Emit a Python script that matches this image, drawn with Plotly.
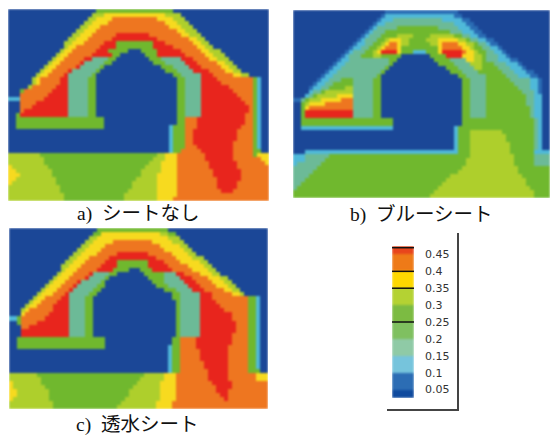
import plotly.graph_objects as go

W, H = 550, 435

# Level colours: 0 = below 0.05 ... 8 = above 0.4
LEVEL_COLORS = ["#1b4797", "#2a6cb4", "#4fb9d9", "#6cba97", "#70b82e",
                "#aecf2c", "#f7da1f", "#ee7620", "#e8251d"]

# Each row of a panel: "level:column" = this level is filled up to that grid column.
PANEL_A = [
"0:22 4:41 0:65",
"0:21 5:24 6:39 5:43 0:65",
"0:20 5:22 6:26 7:37 6:41 5:44 0:65",
"0:19 5:21 6:25 7:39 6:42 5:45 0:65",
"0:18 5:20 6:23 7:40 6:43 5:46 0:65",
"0:17 5:19 6:22 7:42 6:44 5:47 0:65",
"0:16 5:18 6:21 7:27 8:35 7:43 6:45 5:48 0:65",
"0:15 5:17 6:20 7:26 8:37 7:45 6:47 5:49 0:65",
"0:14 5:16 6:19 7:24 8:27 4:36 8:39 7:46 6:48 5:50 0:65",
"0:14 5:15 6:17 7:23 8:27 4:36 8:41 7:47 6:49 5:51 0:65",
"0:13 5:14 6:16 7:22 8:25 4:30 0:33 4:37 8:43 7:48 6:50 5:53 0:65",
"0:12 5:13 6:15 7:21 8:26 4:28 0:34 4:37 8:44 7:49 6:51 5:54 0:65",
"0:11 5:12 6:14 7:19 8:21 3:25 4:27 0:35 4:38 3:43 8:46 7:50 6:52 5:55 0:65",
"0:10 5:11 6:13 7:18 8:19 3:24 4:26 0:36 4:39 3:44 8:47 7:52 6:54 5:56 0:65",
"0:9 5:10 6:12 7:17 8:18 3:23 4:24 0:38 4:41 3:45 8:48 7:53 6:55 5:57 0:65",
"0:8 5:9 6:11 7:15 8:16 3:22 4:23 0:39 4:42 3:46 8:50 7:54 6:56 5:58 0:65",
"0:7 5:8 6:10 7:14 8:15 3:21 4:22 0:41 4:43 3:48 8:51 7:56 6:58 5:60 0:65",
"0:6 5:7 6:8 7:13 8:15 3:20 4:22 0:42 4:44 3:48 8:52 7:61 4:62 2:63 0:65",
"0:6 5:7 6:8 7:13 8:15 3:20 4:22 0:42 4:44 3:48 8:53 7:61 4:62 2:63 0:65",
"0:5 5:6 7:12 8:15 3:20 4:22 0:42 4:44 3:48 8:55 7:61 4:62 2:63 0:65",
"0:3 4:4 7:11 8:15 3:20 4:22 0:42 4:44 3:48 8:56 7:61 4:62 2:63 0:65",
"0:3 7:10 8:15 3:20 4:22 0:42 4:44 3:48 8:57 7:61 4:62 2:63 0:65",
"2:3 7:9 8:15 3:20 4:22 0:42 4:44 3:48 8:58 7:61 4:62 2:63 0:65",
"0:3 7:7 8:15 3:20 4:22 0:42 4:44 3:48 8:59 7:61 4:62 2:63 0:65",
"0:3 7:6 8:15 3:20 4:22 0:42 4:44 3:48 8:60 7:61 4:62 2:63 0:65",
"0:3 7:4 8:15 3:20 4:22 0:42 4:44 3:48 8:60 7:61 4:62 2:63 0:65",
"0:2 4:3 8:15 3:20 4:22 0:42 4:44 3:48 8:59 7:61 4:62 2:63 0:65",
"0:2 4:24 0:42 4:44 7:47 8:59 7:61 4:62 2:63 0:65",
"0:2 4:24 0:42 4:44 7:47 8:59 7:61 4:62 2:63 0:65",
"0:2 4:24 0:40 2:41 4:44 7:47 8:58 7:61 4:62 2:63 0:65",
"0:40 2:41 4:44 7:46 8:57 7:61 4:62 2:63 0:65",
"0:40 2:41 4:44 7:46 8:57 7:61 4:62 2:63 0:65",
"0:40 2:41 4:44 7:46 8:57 7:61 4:62 2:63 0:65",
"0:40 2:41 4:44 7:46 8:56 7:61 4:62 2:63 0:65",
"0:40 2:41 4:44 7:47 8:56 7:61 4:62 2:63 0:65",
"0:40 2:41 4:43 7:48 8:56 7:61 4:63 0:65",
"5:8 4:37 5:39 6:42 7:49 8:56 7:61 4:62 6:65",
"5:9 4:36 5:39 6:42 7:49 8:56 7:63 6:65",
"5:9 4:35 5:38 6:42 7:50 8:57 7:64 6:65",
"6:1 5:10 4:34 5:38 6:42 7:50 8:57 7:65",
"6:2 5:11 4:33 5:38 6:42 7:51 8:58 7:65",
"6:3 5:11 4:33 5:37 6:42 7:51 8:58 7:65",
"6:2 5:12 4:32 5:37 6:42 7:52 8:58 7:65",
"6:1 5:12 4:31 5:37 6:42 7:52 8:57 7:65",
"5:13 4:31 5:37 6:42 7:52 8:57 7:65",
"5:13 4:30 5:37 6:42 7:53 8:56 7:65",
"5:14 4:29 5:37 6:42 7:65",
"5:14 4:29 5:37 6:41 7:65",
]

PANEL_B = [
"0:23 1:41 0:64",
"0:22 1:23 2:40 1:42 0:64",
"0:21 1:22 2:25 3:37 2:42 1:44 0:64",
"0:20 1:21 2:23 3:40 2:43 1:45 0:64",
"0:19 1:20 2:21 3:26 4:36 3:41 2:44 1:46 0:64",
"0:18 1:19 2:20 3:23 4:39 3:42 2:45 1:47 0:64",
"0:17 1:18 2:19 3:22 4:26 5:30 4:34 5:40 4:42 3:44 2:46 1:48 0:64",
"0:16 1:17 2:18 3:21 4:23 5:24 6:27 5:29 4:33 5:36 6:41 5:43 4:44 3:46 2:48 1:50 0:64",
"0:15 1:16 2:18 3:20 4:22 5:23 6:24 7:26 6:27 5:29 4:34 5:36 6:37 7:41 6:43 5:45 4:46 3:48 2:49 1:51 0:64",
"0:14 1:15 2:17 3:19 4:21 5:22 6:23 7:26 6:27 4:36 6:37 7:42 6:44 5:45 4:47 3:49 2:51 1:52 0:64",
"0:13 1:14 2:15 3:18 4:20 5:21 6:22 8:26 6:27 4:30 2:33 4:36 6:37 8:42 7:43 6:45 5:46 4:48 3:50 2:52 1:53 0:64",
"0:12 1:13 2:14 3:17 4:20 5:22 4:27 0:34 4:38 8:42 6:45 5:47 4:48 3:51 2:53 1:54 0:64",
"0:11 1:12 2:14 3:24 4:26 0:35 4:39 3:43 6:45 5:47 4:48 3:51 2:54 1:56 0:64",
"0:10 1:11 2:13 3:24 4:25 0:36 4:40 3:44 5:47 4:50 3:53 2:56 1:57 0:64",
"0:9 1:10 2:12 3:23 4:24 0:38 4:41 3:45 5:47 4:51 3:54 2:57 1:58 0:64",
"0:8 1:9 2:11 3:22 4:23 0:39 4:42 3:46 4:52 3:55 2:58 1:60 0:64",
"0:7 1:8 2:10 3:21 4:22 0:41 4:43 3:48 4:53 3:56 2:59 1:61 0:64",
"0:6 1:7 2:9 3:12 4:15 3:20 4:22 0:42 4:44 3:48 4:54 3:59 2:61 1:62 0:64",
"0:5 1:6 2:8 3:10 4:15 3:20 4:22 0:42 4:44 3:48 4:55 3:59 2:61 1:62 0:64",
"0:4 1:5 2:7 3:9 4:13 5:15 3:20 4:22 0:42 4:44 3:48 4:56 3:59 2:61 1:62 0:64",
"0:4 2:5 3:7 4:8 5:15 3:20 4:22 0:42 4:44 3:48 4:57 3:60 2:61 1:62 0:64",
"0:3 2:4 3:5 4:6 5:11 6:15 3:20 4:22 0:42 4:44 3:48 4:58 3:60 2:62 0:64",
"1:2 3:3 4:4 5:7 6:12 7:15 3:20 4:22 0:42 4:44 3:48 4:58 3:60 2:62 0:64",
"0:2 4:3 5:4 6:8 7:15 3:20 4:22 0:42 4:44 3:48 4:58 3:60 2:62 0:64",
"0:2 4:3 6:4 7:15 3:20 4:22 0:42 4:44 3:48 4:59 3:60 2:62 0:64",
"0:2 4:3 8:15 3:20 4:22 0:42 4:44 3:48 4:59 3:60 2:62 0:64",
"0:2 4:3 8:15 3:20 4:22 0:42 4:44 3:48 4:59 3:60 2:62 0:64",
"0:2 4:25 0:42 4:60 3:61 2:62 0:64",
"0:2 4:25 0:42 4:60 3:61 2:62 0:64",
"0:2 2:25 0:40 2:41 4:60 3:61 2:62 0:64",
"0:40 2:41 4:44 5:52 4:60 3:61 2:62 0:64",
"0:40 2:41 4:44 5:53 4:60 3:61 2:62 0:64",
"0:40 2:41 4:44 5:53 4:60 3:61 2:62 0:64",
"0:40 2:41 4:44 5:54 4:60 3:61 2:62 0:64",
"0:40 2:41 4:44 5:54 4:60 3:61 2:62 0:64",
"0:3 2:41 4:44 5:54 4:60 2:64",
"2:3 3:9 4:44 5:55 4:60 3:64",
"2:3 3:8 4:43 5:55 4:60 3:64",
"2:1 3:7 4:43 5:55 4:60 3:64",
"3:6 4:42 5:56 4:64",
"3:5 4:41 5:56 4:64",
"3:4 4:39 5:57 4:64",
"3:3 4:38 5:58 4:64",
"3:2 4:37 5:58 4:64",
"3:1 4:36 5:59 4:64",
"4:35 5:60 4:64",
"4:34 5:60 4:64",
]

PANEL_C = [
"0:22 4:40 0:65",
"0:21 4:23 6:38 5:40 4:42 0:65",
"0:20 5:22 6:40 5:43 0:65",
"0:19 5:21 6:26 7:36 6:41 5:44 0:65",
"0:18 5:20 6:24 7:38 6:43 5:45 0:65",
"0:17 5:19 6:23 7:39 6:44 5:46 0:65",
"0:16 5:18 6:22 7:27 8:35 7:41 6:45 5:47 0:65",
"0:15 5:17 6:20 7:25 8:37 7:42 6:46 5:49 0:65",
"0:14 5:16 6:19 7:24 8:27 4:35 8:39 7:43 6:48 5:50 0:65",
"0:13 5:15 6:18 7:23 8:27 4:35 8:40 7:45 6:49 5:51 0:65",
"0:13 5:14 6:17 7:22 8:26 4:30 0:33 4:36 8:41 7:46 6:50 5:52 0:65",
"0:12 5:13 6:16 7:20 8:21 3:25 4:27 0:34 4:39 3:42 8:44 7:48 6:51 5:53 0:65",
"0:11 5:12 6:15 7:19 8:20 3:24 4:25 0:35 4:39 3:43 8:46 7:50 6:53 5:55 0:65",
"0:10 5:11 6:14 7:17 8:18 3:23 4:24 0:36 4:39 3:44 8:47 7:51 6:54 5:56 0:65",
"0:9 5:10 6:13 7:16 8:17 3:22 4:24 0:37 4:40 3:45 8:48 7:52 6:55 5:57 0:65",
"0:8 5:9 6:12 7:15 8:16 3:21 4:23 0:39 4:42 3:46 8:49 7:54 6:56 5:58 0:65",
"0:7 5:8 6:11 7:14 8:15 3:20 4:22 0:41 4:43 3:48 8:51 7:56 6:58 5:59 0:65",
"0:6 5:7 6:9 7:13 8:15 3:19 4:21 0:41 4:43 3:48 8:51 7:60 4:62 2:63 0:65",
"0:5 5:6 6:8 7:12 8:15 3:19 4:21 0:42 4:43 3:48 8:52 7:60 4:62 2:63 0:65",
"0:4 5:5 6:7 7:11 8:15 3:19 4:21 0:42 4:43 3:48 8:53 7:60 4:62 2:63 0:65",
"0:3 5:4 6:5 7:11 8:15 3:19 4:21 0:42 4:43 3:48 8:54 7:60 4:62 2:63 0:65",
"0:3 6:4 7:10 8:15 3:19 4:21 0:42 4:43 3:48 8:56 7:60 4:62 2:63 0:65",
"2:2 4:3 7:9 8:15 3:19 4:21 0:42 4:43 3:48 8:56 7:60 4:62 2:63 0:65",
"0:2 4:3 7:7 8:15 3:19 4:21 0:42 4:43 3:48 8:57 7:60 4:62 2:63 0:65",
"0:3 7:5 8:15 3:19 4:21 0:42 4:43 3:48 8:57 7:60 4:62 2:63 0:65",
"0:3 8:15 3:19 4:21 0:42 4:43 3:48 8:57 7:60 4:62 2:63 0:65",
"0:3 8:15 3:19 4:21 0:42 4:43 3:48 8:56 7:60 4:62 2:63 0:65",
"0:2 4:24 0:41 4:43 7:47 8:56 7:60 4:62 2:63 0:65",
"0:2 4:24 0:41 4:43 7:47 8:56 7:60 4:62 2:63 0:65",
"0:2 4:24 0:40 2:41 4:43 7:47 8:55 7:60 4:62 2:63 0:65",
"0:40 2:41 4:43 7:48 8:55 7:60 4:62 2:63 0:65",
"0:40 2:41 4:43 7:48 8:55 7:60 4:62 2:63 0:65",
"0:40 2:41 4:43 7:48 8:55 7:60 4:62 2:63 0:65",
"0:40 2:41 4:43 7:49 8:55 7:60 4:62 2:63 0:65",
"0:40 2:41 4:43 7:49 8:55 7:60 4:62 2:63 0:65",
"0:40 2:41 4:43 7:50 8:55 7:60 4:63 0:65",
"5:7 4:34 5:39 6:42 7:50 8:55 7:62 6:65",
"5:8 4:33 5:39 6:42 7:50 8:55 7:62 6:65",
"6:1 5:8 4:32 5:38 6:42 7:51 8:56 7:65",
"6:1 5:9 4:31 5:38 6:42 7:52 8:56 7:65",
"6:2 5:10 4:30 5:38 6:42 7:52 8:55 7:65",
"6:2 5:10 4:30 5:38 6:42 7:53 8:55 7:65",
"6:1 5:10 4:29 5:38 6:42 7:54 8:55 7:65",
"5:11 4:28 5:37 6:41 7:65",
"5:11 4:27 5:37 6:41 7:65",
]

CAPTIONS = ["a)  シートなし", "b)  ブルーシート", "c)  透水シート"]

LEGEND_EDGES = [0.025, 0.05, 0.10, 0.15, 0.20, 0.25, 0.30, 0.35, 0.40, 0.45, 0.475]
LEGEND_COLORS = ["#0f4a9e", "#2c6db4", "#76c4dc", "#8fcaa6", "#7fc060",
                 "#7cbb42", "#b4d233", "#fdd800", "#ee7a18", "#e8451c"]
LEGEND_TICKS = [0.45, 0.40, 0.35, 0.30, 0.25, 0.20, 0.15, 0.10, 0.05]
LEGEND_LABELS = ["0.45", "0.4", "0.35", "0.3", "0.25", "0.2", "0.15", "0.1", "0.05"]
LEGEND_LINES = [0.47, 0.40, 0.35, 0.25]


def decode(rows):
    grid = []
    for row in rows:
        cells, start = [], 0
        for part in row.split():
            level, end = part.split(":")
            cells += [int(level)] * (int(end) - start)
            start = int(end)
        grid.append(cells)
    return grid


def stepped(colors):
    n = len(colors)
    scale = []
    for i, c in enumerate(colors):
        scale += [[i / n, c], [(i + 1) / n, c]]
    return scale


def xdom(a, b):
    return [a / W, b / W]


def ydom(top, bottom):
    return [1 - bottom / H, 1 - top / H]


fig = go.Figure()
panels = [
    (PANEL_A, (8, 269), (9, 201)),
    (PANEL_B, (293, 550), (10, 198)),
    (PANEL_C, (9, 268), (228, 409)),
]
layout = {}
for i, (rows, xr, yr) in enumerate(panels, start=1):
    z = decode(rows)
    fig.add_trace(go.Heatmap(
        z=z, zmin=-0.5, zmax=8.5, colorscale=stepped(LEVEL_COLORS), showscale=False,
        hoverinfo="skip", xaxis=f"x{i}", yaxis=f"y{i}"))
    layout[f"xaxis{i}"] = dict(domain=xdom(*xr), range=[-0.5, len(z[0]) - 0.5],
                               visible=False, fixedrange=True)
    layout[f"yaxis{i}"] = dict(domain=ydom(*yr), range=[len(z) - 0.5, -0.5],
                               visible=False, fixedrange=True, anchor=f"x{i}")

# Legend colour bar, on its own value axis
mids = [(LEGEND_EDGES[k] + LEGEND_EDGES[k + 1]) / 2 for k in range(len(LEGEND_COLORS))]
fig.add_trace(go.Heatmap(
    x=[0, 1], y=LEGEND_EDGES, z=[[k] for k in range(len(mids))],
    zmin=-0.5, zmax=len(mids) - 0.5, colorscale=stepped(LEGEND_COLORS), showscale=False,
    hoverinfo="skip", xaxis="x4", yaxis="y4"))
layout["xaxis4"] = dict(domain=xdom(392, 414), range=[0, 1], visible=False, fixedrange=True,
                        anchor="y4")
layout["yaxis4"] = dict(domain=ydom(246, 398), range=[0.025, 0.475], side="right", anchor="x4",
                        tickvals=LEGEND_TICKS, ticktext=LEGEND_LABELS, ticks="",
                        ticklabelstandoff=10, showgrid=False, showline=False, zeroline=False,
                        fixedrange=True,
                        tickfont=dict(family="DejaVu Sans", size=11, color="#333333"))

shapes = []
for v in LEGEND_LINES:
    shapes.append(dict(type="line", xref="x4", yref="y4", x0=0, x1=1, y0=v, y1=v,
                       line=dict(color="#111111", width=1.5)))
shapes.append(dict(type="line", xref="paper", yref="paper", x0=458 / W, x1=458 / W,
                   y0=1 - 411 / H, y1=1 - 233 / H, line=dict(color="#444444", width=2)))
shapes.append(dict(type="line", xref="paper", yref="paper", x0=387 / W, x1=458 / W,
                   y0=1 - 410 / H, y1=1 - 410 / H, line=dict(color="#444444", width=2)))

caption_pos = [(138, 214), (421, 214), (137, 425)]
annotations = [
    dict(text=t, x=px / W, y=1 - py / H, xref="paper", yref="paper", showarrow=False,
         xanchor="center", yanchor="middle",
         font=dict(family="Liberation Serif, Noto Sans CJK JP", size=19.5, color="#111111"))
    for t, (px, py) in zip(CAPTIONS, caption_pos)
]

fig.update_layout(width=W, height=H, margin=dict(l=0, r=0, t=0, b=0),
                  paper_bgcolor="white", plot_bgcolor="white", showlegend=False,
                  shapes=shapes, annotations=annotations, **layout)
fig.write_html(
    "out.html", config={"displayModeBar": False},
    post_script=(
        "document.body.style.margin='0';document.documentElement.style.overflow='hidden';"
        "var s=document.createElement('style');"
        "s.textContent='.hm image{filter:blur(1.1px);}';"
        "document.head.appendChild(s);"
    ),
)
